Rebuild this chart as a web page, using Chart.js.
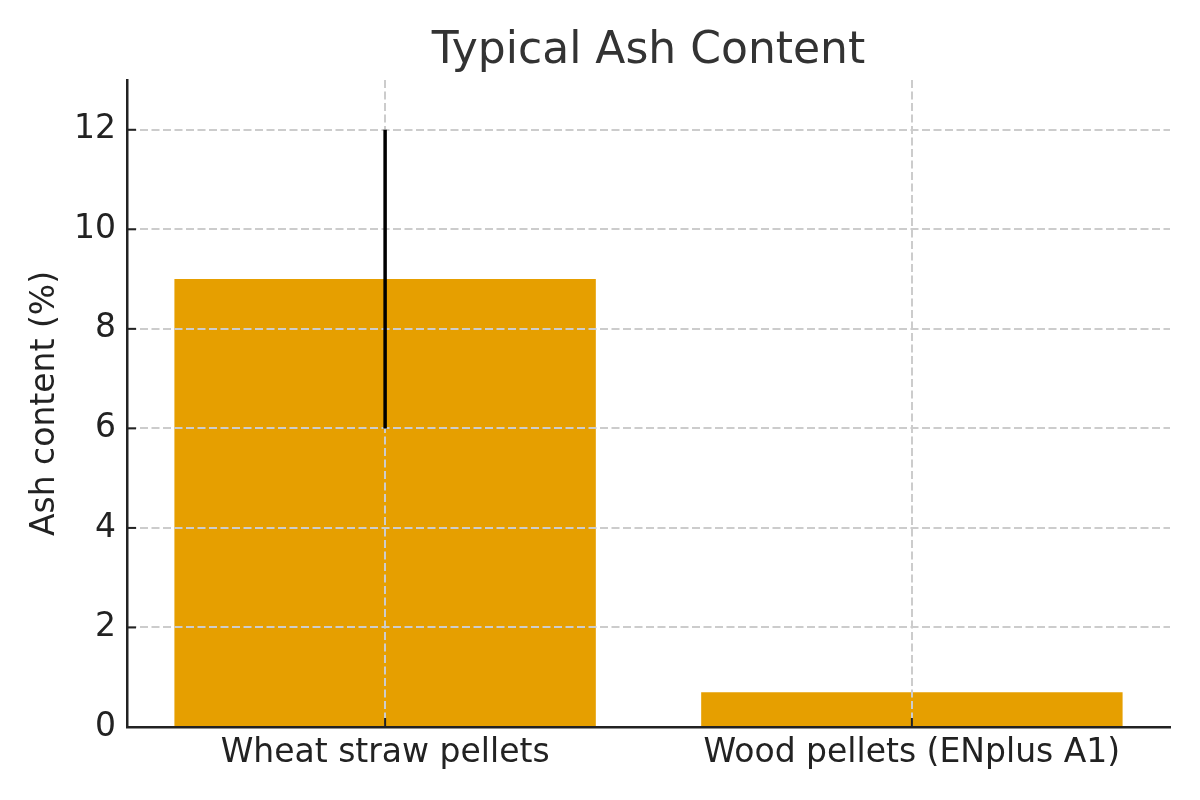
<!DOCTYPE html>
<html>
<head>
<meta charset="utf-8">
<script src="https://cdn.jsdelivr.net/npm/chart.js@4"></script>
<style>
  html, body { margin: 0; padding: 0; background: #fff; }
  #wrap { width: 1200px; height: 800px; }
</style>
</head>
<body>
<div id="wrap"><canvas id="chart" width="1200" height="800"></canvas></div>
<script>
// data
const categories = ["Wheat straw pellets", "Wood pellets (ENplus A1)"];
const ashContent = [9, 0.7];
const ashLow = [6, null];   // error bar ends (no bar for wood pellets)
const ashHigh = [12, null];
const yTicks = [0, 2, 4, 6, 8, 10, 12];
const chartTitle = "Typical Ash Content";
const yTitle = "Ash content (%)";

const FONT = "DejaVu Sans";
const gridColor = ctx => (ctx.tick && ctx.tick.value === 0 ? "rgba(0,0,0,0)" : "#cccccc");

// title over the plot area, error bars and inward tick marks
const extras = {
  id: "extras",
  afterDraw(chart) {
    const { ctx, chartArea, scales: { x, y } } = chart;
    ctx.save();
    ctx.font = `44px "${FONT}"`;
    ctx.fillStyle = "#333333";
    ctx.textAlign = "center";
    ctx.textBaseline = "alphabetic";
    ctx.fillText(chartTitle, (chartArea.left + chartArea.right) / 2, chartArea.top - 17);

    ctx.strokeStyle = "#000";
    ctx.lineWidth = 3.5;
    ashContent.forEach((v, i) => {
      if (ashLow[i] == null) return;
      const px = x.getPixelForValue(i);
      ctx.beginPath();
      ctx.moveTo(px, y.getPixelForValue(ashLow[i]));
      ctx.lineTo(px, y.getPixelForValue(ashHigh[i]));
      ctx.stroke();
    });

    ctx.strokeStyle = "#222";
    ctx.lineWidth = 2;
    y.ticks.forEach(t => {
      const py = y.getPixelForValue(t.value);
      ctx.beginPath();
      ctx.moveTo(chartArea.left, py);
      ctx.lineTo(chartArea.left + 9, py);
      ctx.stroke();
    });
    x.ticks.forEach(t => {
      const px = x.getPixelForValue(t.value);
      ctx.beginPath();
      ctx.moveTo(px, chartArea.bottom);
      ctx.lineTo(px, chartArea.bottom - 9);
      ctx.stroke();
    });
    ctx.restore();
  }
};

new Chart(document.getElementById("chart"), {
  type: "bar",
  data: {
    datasets: [{
      label: yTitle,
      data: ashContent.map((v, i) => ({ x: i, y: v })),
      backgroundColor: "#E69F00",
      borderWidth: 0,
      barPercentage: 0.8,
      categoryPercentage: 1.0
    }]
  },
  options: {
    responsive: false,
    animation: false,
    devicePixelRatio: 1,
    layout: { padding: { top: 80, right: 30, left: 0, bottom: 0 } },
    plugins: {
      legend: { display: false },
      tooltip: { enabled: false },
      title: { display: false }
    },
    scales: {
      x: {
        type: "linear",
        min: -0.49,
        max: 1.49,
        offset: false,
        afterBuildTicks: s => { s.ticks = categories.map((_, i) => ({ value: i })); },
        afterFit: s => { s.height = 73; },
        ticks: {
          callback: v => categories[Math.round(v)],
          font: { family: FONT, size: 33 },
          color: "#222",
          padding: 7,
          maxRotation: 0,
          autoSkip: false,
          z: 2
        },
        grid: { offset: false, color: "#cccccc", lineWidth: 2, drawTicks: false, z: 1 },
        border: { display: true, color: "#222", width: 2.5, dash: [8, 3.5], z: 2 }
      },
      y: {
        min: 0,
        max: 13,
        afterBuildTicks: s => { s.ticks = yTicks.map(v => ({ value: v })); },
        afterFit: s => { s.width = 127; },
        ticks: {
          font: { family: FONT, size: 33 },
          color: "#222",
          padding: 11,
          z: 2
        },
        grid: { color: gridColor, lineWidth: 2, drawTicks: false, z: 1 },
        border: { display: true, color: "#222", width: 2.5, dash: [8, 3.5], z: 2 },
        title: {
          display: true,
          text: yTitle,
          font: { family: FONT, size: 33 },
          color: "#222",
          padding: { top: 26, bottom: 0 }
        }
      }
    }
  },
  plugins: [extras]
});
</script>
</body>
</html>
